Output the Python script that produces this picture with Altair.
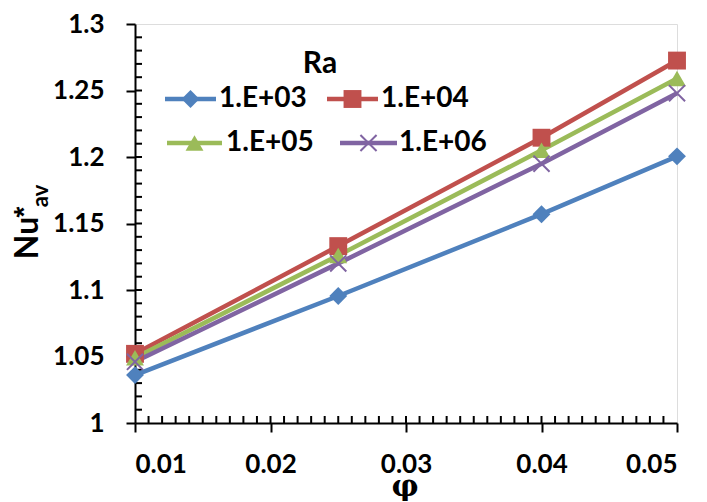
import altair as alt
import pandas as pd

phi = [0.01, 0.025, 0.04, 0.05]
series_names = ["1.E+03", "1.E+04", "1.E+05", "1.E+06"]
nu_1e3 = [1.036, 1.0955, 1.157, 1.2005]
nu_1e4 = [1.052, 1.133, 1.2145, 1.2725]
nu_1e5 = [1.049, 1.126, 1.205, 1.259]
nu_1e6 = [1.046, 1.120, 1.195, 1.248]
colors = ["#4F81BD", "#C0504D", "#9BBB59", "#8064A2"]
shapes = ["diamond", "square", "triangle-up", "M-1,-1L1,1M-1,1L1,-1"]

x_ticks = [0.01, 0.02, 0.03, 0.04, 0.05]
y_ticks = [1.0, 1.05, 1.1, 1.15, 1.2, 1.25, 1.3]
x_minor = [round(0.01 + 0.001 * i, 4) for i in range(1, 40)]
y_minor = [round(1.0 + 0.01 * i, 3) for i in range(1, 30)]

rows = []
for name, vals in zip(series_names, [nu_1e3, nu_1e4, nu_1e5, nu_1e6]):
    for p, v in zip(phi, vals):
        rows.append({"phi": p, "nu": v, "Ra": name})
df = pd.DataFrame(rows)

FONT = "Lato"
W, H = 542, 399

xs = alt.Scale(domain=[0.01, 0.05], nice=False, zero=False)
ys = alt.Scale(domain=[1.0, 1.3], nice=False, zero=False)
cs = alt.Scale(domain=series_names, range=colors)
ss = alt.Scale(domain=series_names, range=shapes)

base = alt.Chart(df)

lines = base.mark_line(strokeWidth=4.5).encode(
    x=alt.X("phi:Q", scale=xs, axis=alt.Axis(
        values=x_ticks, format=".2f", title=None, tickSize=9, tickWidth=2,
        tickColor="black", domainColor="black", domainWidth=2, grid=False,
        labelFont=FONT, labelFontSize=26, labelFontWeight="bold", labelColor="black",
        labelPadding=19)),
    y=alt.Y("nu:Q", scale=ys, axis=alt.Axis(
        values=y_ticks, format="~g", title=None, tickSize=9, tickWidth=2,
        tickColor="black", domainColor="black", domainWidth=2, grid=False,
        labelFont=FONT, labelFontSize=26, labelFontWeight="bold", labelColor="black",
        labelPadding=22)),
    color=alt.Color("Ra:N", scale=cs, legend=None),
    detail="Ra:N",
)

filled_pts = base.transform_filter(alt.datum.Ra != "1.E+06").mark_point(
    filled=True, opacity=1, size=320).encode(
    x=alt.X("phi:Q", scale=xs), y=alt.Y("nu:Q", scale=ys),
    color=alt.Color("Ra:N", scale=cs, legend=None),
    shape=alt.Shape("Ra:N", scale=ss, legend=None),
)
x_pts = base.transform_filter(alt.datum.Ra == "1.E+06").mark_point(
    filled=False, opacity=1, size=260, strokeWidth=2,
    shape="M-1,-1L1,1M-1,1L1,-1").encode(
    x=alt.X("phi:Q", scale=xs), y=alt.Y("nu:Q", scale=ys),
    color=alt.Color("Ra:N", scale=cs, legend=None),
)

ym = alt.Chart(pd.DataFrame({"v": y_minor})).mark_rule(color="black", strokeWidth=2).encode(
    y=alt.Y("v:Q", scale=ys), x=alt.value(0), x2=alt.value(7))
xm = alt.Chart(pd.DataFrame({"v": x_minor})).mark_rule(color="black", strokeWidth=2).encode(
    x=alt.X("v:Q", scale=xs), y=alt.value(H), y2=alt.value(H - 7))

# titles (page coords minus plot origin 135, 24)
OX, OY = 135, 24
def txt(s, px, py, size, angle=0, font=FONT, align="center", baseline="middle", weight="bold"):
    return alt.Chart(pd.DataFrame({"t": [s]})).mark_text(
        font=font, fontSize=size, fontWeight=weight, align=align, baseline=baseline,
        angle=angle, color="black").encode(
        text="t:N", x=alt.value(px - OX), y=alt.value(py - OY))

ytitle = [
    txt("Nu", 28, 238, 32, angle=270),
    txt("*", 25, 212, 28, angle=270, font="Liberation Sans"),
    txt("av", 41, 196, 22, angle=270),
]
xtitle = txt("φ", 405, 487, 30, font="DejaVu Serif")

# legend
leg = [txt("Ra", 320, 64, 30)]
leg_items = [
    (series_names[0], colors[0], shapes[0], 165, 216, 99, 219),
    (series_names[1], colors[1], shapes[1], 327, 378, 99, 381),
    (series_names[2], colors[2], shapes[2], 167, 222, 143, 226),
    (series_names[3], colors[3], shapes[3], 340, 397, 143, 399),
]
for name, col, shp, x1, x2, yy, lx in leg_items:
    leg.append(alt.Chart(pd.DataFrame({"a": [0]})).mark_rule(color=col, strokeWidth=4.5).encode(
        x=alt.value(x1 - OX), x2=alt.value(x2 - OX), y=alt.value(yy - OY)))
    if shp.startswith("M"):
        leg.append(alt.Chart(pd.DataFrame({"a": [0]})).mark_point(
            shape=shp, filled=False, size=260, strokeWidth=2, color=col, opacity=1).encode(
            x=alt.value((x1 + x2) / 2 - OX), y=alt.value(yy - OY)))
    else:
        leg.append(alt.Chart(pd.DataFrame({"a": [0]})).mark_point(
            shape=shp, filled=True, size=320, color=col, opacity=1).encode(
            x=alt.value((x1 + x2) / 2 - OX), y=alt.value(yy - OY)))
    leg.append(txt(name, lx, yy, 28, align="left"))

chart = alt.layer(ym, xm, lines, filled_pts, x_pts, xtitle, *ytitle, *leg).properties(
    width=W, height=H,
    padding={"left": 127, "top": 16, "right": 22, "bottom": 78},
    autosize=alt.AutoSizeParams(type="none"),
).configure_view(stroke="black", strokeWidth=2).configure(background="white")

chart.save("out.html", embed_options={"renderer": "svg", "actions": False})
